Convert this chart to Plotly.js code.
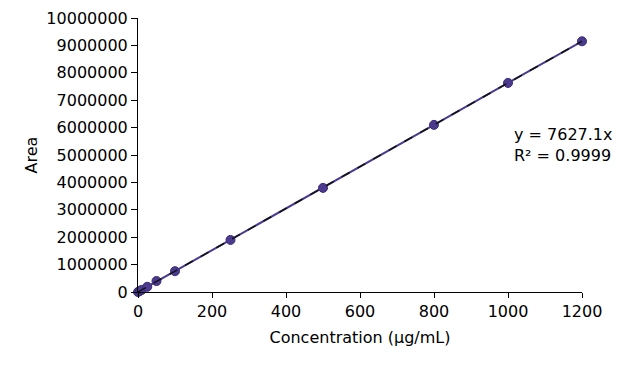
<!DOCTYPE html>
<html><head><meta charset="utf-8">
<script src="https://cdn.plot.ly/plotly-3.0.1.min.js"></script>
<style>body{margin:0;padding:0;background:#fff;}#chart{width:620px;height:367px;}</style>
</head><body><div id="chart"></div>
<script>
var concentration = [0, 5, 10, 25, 50, 100, 250, 500, 800, 1000, 1200];
var area = [0, 38000, 76000, 190000, 400000, 760000, 1900000, 3800000, 6100000, 7630000, 9150000];
var slope = 7627.1;
var trendX = [0, 1200];
var trendY = trendX.map(function(v){return v*slope;});

var traces = [
  {x: concentration, y: area, type: 'scatter', mode: 'lines+markers',
   line: {color: '#4b3a8e', width: 2},
   marker: {color: '#4b3a8e', size: 9, line: {color: '#3a2a78', width: 1}},
   cliponaxis: false, hoverinfo: 'x+y'},
  {x: trendX, y: trendY, type: 'scatter', mode: 'lines',
   line: {color: '#111111', width: 1.5, dash: 'dash'}, cliponaxis: false}
];
var font = {family: 'Verdana, "DejaVu Sans", sans-serif', size: 16, color: '#000'};
var layout = {
  width: 620, height: 367,
  margin: {l: 138, r: 38, t: 18, b: 75},
  paper_bgcolor: '#fff', plot_bgcolor: '#fff',
  showlegend: false,
  font: font,
  xaxis: {range: [0, 1200], tickvals: [0,200,400,600,800,1000,1200],
    showgrid: false, zeroline: false, showline: true, linecolor: '#000', linewidth: 1,
    ticks: 'outside', ticklen: 5, tickcolor: '#000', tickfont: font,
    title: {text: 'Concentration (µg/mL)', font: font, standoff: 11}},
  yaxis: {range: [0, 10000000], dtick: 1000000, tickformat: 'd',
    showgrid: false, zeroline: false, showline: true, linecolor: '#000', linewidth: 1,
    ticks: 'outside', ticklen: 6, tickcolor: '#000', tickfont: font,
    title: {text: 'Area', font: font, standoff: 4}},
  annotations: [
    {xref: 'paper', yref: 'paper', x: 0.843, y: 0.618, xanchor: 'left', yanchor: 'top',
     align: 'left', showarrow: false, font: font,
     text: 'y = ' + slope + 'x<br>R² = 0.9999'}
  ]
};
Plotly.newPlot('chart', traces, layout, {displayModeBar: false, staticPlot: true});
</script></body></html>
